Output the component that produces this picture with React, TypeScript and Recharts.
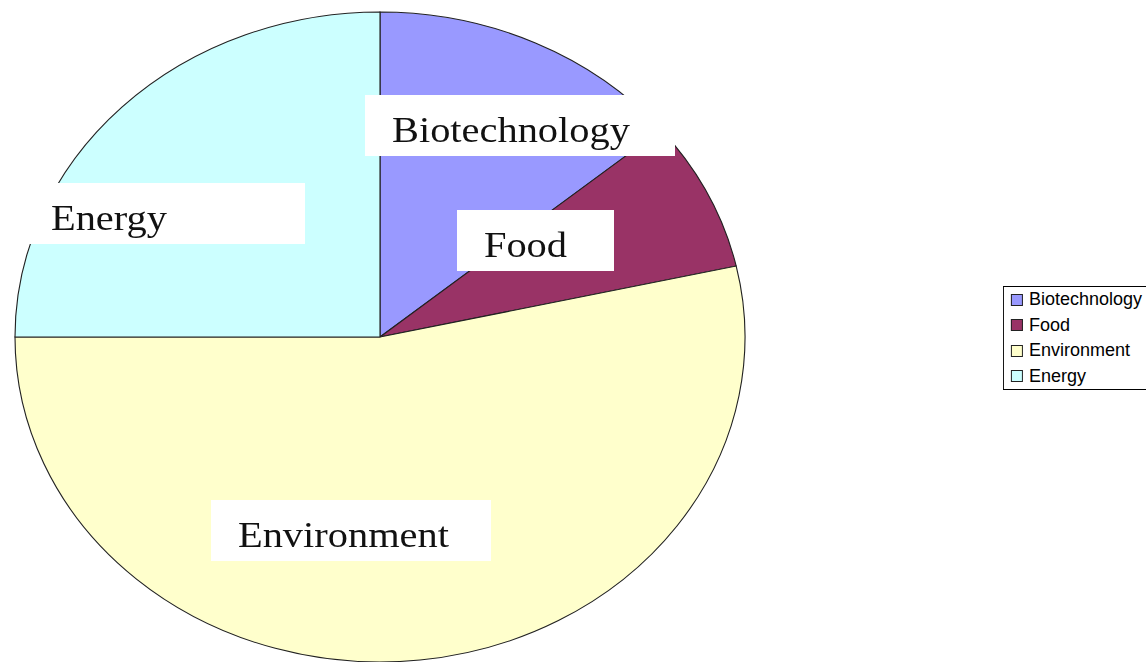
import { PieChart, Pie, Cell, Legend } from 'recharts';

// sectors, clockwise from 12 o'clock
const categories = ['Biotechnology', 'Food', 'Environment', 'Energy'];
const shares = [14, 7.5, 53.5, 25];
const colors = ['#9999FF', '#993366', '#FFFFCC', '#CCFFFF'];

const data = categories.map((name, i) => ({ name, value: shares[i] }));

// the original pie is an ellipse: draw a circle and stretch it horizontally
const SX = 365 / 325;
const W = 1146;
const H = 662;

// label boxes, offsets from the centre in screen px [left, top, width]
const labelBoxes: Array<[number, number, number]> = [
  [-15, -242, 310],
  [77, -127, 157],
  [-169, 163, 280],
  [-356, -154, 281],
];

const SliceLabel = (props: any) => {
  const { cx, cy, index, name } = props;
  const [dx, dy, w] = labelBoxes[index];
  const x = cx + dx / SX;
  const y = cy + dy;
  return (
    <g>
      <rect x={x} y={y} width={w / SX} height={61} fill="#ffffff" />
      <text
        x={x + 24}
        y={y + 47}
        fontFamily="'Liberation Serif', 'Times New Roman', serif"
        fontSize={36}
        fill="#111"
      >
        {name}
      </text>
    </g>
  );
};

// legend keeps the series order (recharts would sort it by name)
const LegendBox = () => (
  <div
    style={{
      border: '1.5px solid #000',
      background: '#fff',
      width: 160,
      fontFamily: "'Liberation Sans', Arial, sans-serif",
      fontSize: 18,
      color: '#000',
    }}
  >
    {categories.map((name, i) => (
      <div key={name} style={{ height: 25.5, display: 'flex', alignItems: 'center' }}>
        <span
          style={{
            display: 'inline-block',
            width: 10,
            height: 10,
            marginLeft: 7,
            marginRight: 6,
            background: colors[i],
            border: '1px solid #222',
          }}
        />
        <span style={{ whiteSpace: 'nowrap' }}>{name}</span>
      </div>
    ))}
  </div>
);

export default function App() {
  return (
    <div
      style={{
        position: 'absolute',
        left: 0,
        top: 0,
        width: W,
        height: H,
        overflow: 'hidden',
        background: '#fff',
      }}
    >
      <div style={{ transform: `scaleX(${SX})`, transformOrigin: '0 0' }}>
        <PieChart width={W / SX} height={H} margin={{ top: 0, right: 0, bottom: 0, left: 0 }}>
          <Pie
            data={data}
            dataKey="value"
            nameKey="name"
            cx={380 / SX}
            cy={337}
            outerRadius={325}
            startAngle={90}
            endAngle={-270}
            stroke="#222"
            strokeWidth={1}
            label={SliceLabel}
            labelLine={false}
            isAnimationActive={false}
          >
            {data.map((d, i) => (
              <Cell key={d.name} fill={colors[i]} />
            ))}
          </Pie>
          <Legend
            layout="vertical"
            align="right"
            verticalAlign="middle"
            content={<LegendBox />}
            wrapperStyle={{
              left: 1003 / SX,
              top: 286,
              right: 'auto',
              bottom: 'auto',
              width: 160,
              transform: `scaleX(${1 / SX})`,
              transformOrigin: '0 0',
            }}
          />
        </PieChart>
      </div>
    </div>
  );
}
